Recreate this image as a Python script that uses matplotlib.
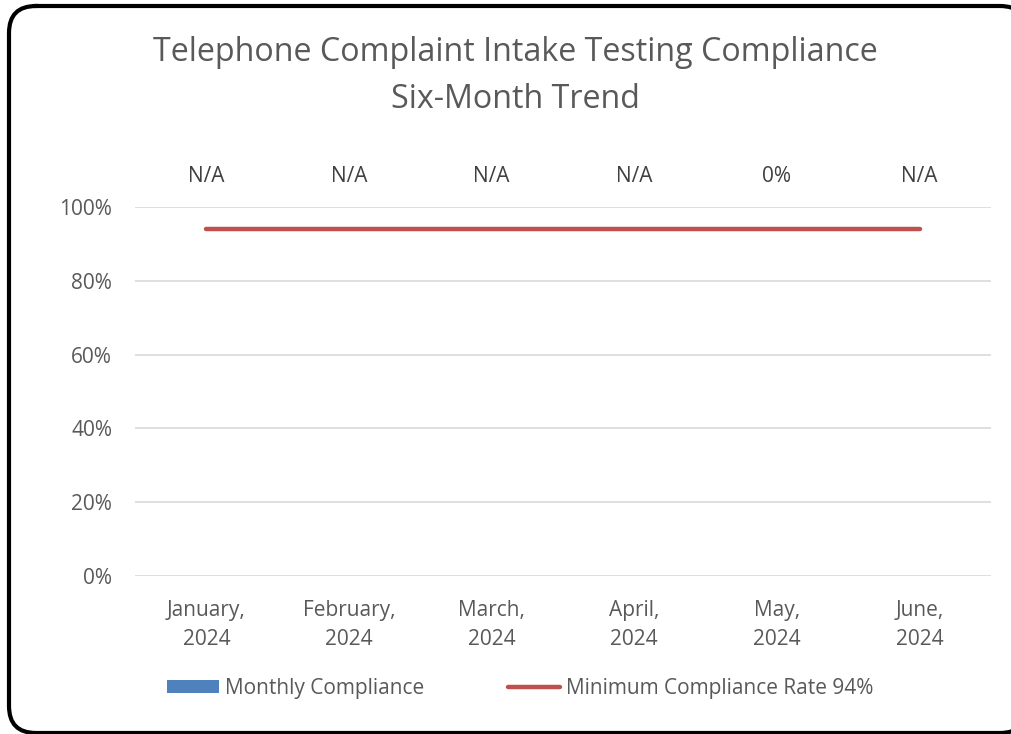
import numpy as np
import matplotlib.pyplot as plt
from matplotlib.patches import FancyBboxPatch
from matplotlib.lines import Line2D
from matplotlib.patches import Patch

# chart data
months = ["January,\n2024", "February,\n2024", "March,\n2024", "April,\n2024", "May,\n2024", "June,\n2024"]
monthly_compliance = [0, 0, 0, 0, 0, 0]
data_labels = ["N/A", "N/A", "N/A", "N/A", "0%", "N/A"]
minimum_rate = [94, 94, 94, 94, 94, 94]
yticks = [0, 20, 40, 60, 80, 100]

plt.rcParams['font.family'] = ['Open Sans', 'DejaVu Sans']
grey = '#595959'

W, H = 1012, 734
fig = plt.figure(figsize=(W / 100, H / 100), dpi=100)

# background axes in pixel units so the rounded border keeps circular corners.
# the border runs off the right/bottom edge, so drop the off-canvas part
# (NaN breaks the line) instead of letting agg clip it along the edge
bg = fig.add_axes([0, 0, 1, 1])
bg.set_xlim(0, W)
bg.set_ylim(H, 0)
bg.axis('off')
frame = FancyBboxPatch((9, 6), 1018, 727, boxstyle="round,pad=0,rounding_size=27")
outline = frame.get_path().to_polygons(closed_only=False)[0].copy()
off = (outline[:, 0] > W + 6) | (outline[:, 1] > H + 6)
outline[off] = np.nan
bg.plot(outline[:, 0], outline[:, 1], color='black', linewidth=3.0,
        solid_joinstyle='round', clip_on=False)

ax = fig.add_axes([0.1334, 0.2153, 0.8458, 0.5027])
ax.set_facecolor('none')

x = range(len(months))
ax.bar(x, monthly_compliance, width=0.5, color='#4F81BD', zorder=2)
ax.plot(x, minimum_rate, color='#C0504D', linewidth=3.2, solid_capstyle='round', zorder=3)

for i, lab in enumerate(data_labels):
    ax.text(i, 108.2, lab, ha='center', va='center', fontsize=15, color='#404040', clip_on=False)

ax.set_xlim(-0.5, len(months) - 0.5)
ax.set_ylim(0, 100)
ax.set_yticks(yticks)
ax.set_yticklabels([f"{v}%" for v in yticks])
ax.set_xticks(list(x))
ax.set_xticklabels(months, linespacing=1.5)
ax.tick_params(axis='both', length=0, labelsize=15, labelcolor=grey)
ax.tick_params(axis='x', pad=17)
ax.tick_params(axis='y', pad=16.5)
ax.grid(axis='y', color='#D9D9D9', linewidth=1.2, zorder=0)
ax.set_axisbelow(True)
for s in ax.spines.values():
    s.set_visible(False)

fig.text(0.509, 0.928, "Telephone Complaint Intake Testing Compliance", ha='center', va='center',
         fontsize=23.2, color=grey)
fig.text(0.509, 0.865, "Six-Month Trend", ha='center', va='center', fontsize=23.2, color=grey)

handles = [Patch(facecolor='#4F81BD', edgecolor='none'),
           Line2D([0], [0], color='#C0504D', linewidth=3.2, solid_capstyle='round')]
fig.legend(handles, ["Monthly Compliance", "Minimum Compliance Rate 94%"], loc='center',
           bbox_to_anchor=(0.514, 0.062), ncol=2, frameon=False, fontsize=15,
           labelcolor=grey, handlelength=2.5, handletextpad=0.3, columnspacing=4.0,
           handleheight=0.6)

fig.savefig("out.png", dpi=100)
